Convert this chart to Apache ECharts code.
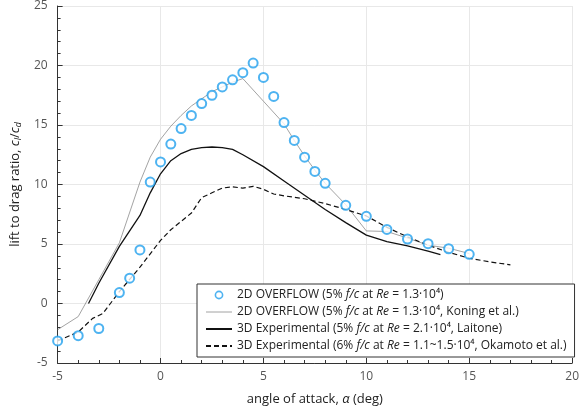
<!DOCTYPE html>
<html><head><meta charset="utf-8">
<script src="https://cdn.jsdelivr.net/npm/echarts@6/dist/echarts.min.js"></script>
<style>html,body{margin:0;padding:0;background:#fff}#c{width:582px;height:414px}</style>
</head><body><div id="c"></div>
<script>
// 2D OVERFLOW (circles)
const overflowAlpha = [-5,-4,-3,-2,-1.5,-1,-0.5,0,0.5,1,1.5,2,2.5,3,3.5,4,4.5,5,5.5,6,6.5,7,7.5,8,9,10,11,12,13,14,15];
const overflowLD    = [-3.15,-2.7,-2.1,0.92,2.13,4.5,10.2,11.9,13.4,14.7,15.8,16.8,17.5,18.2,18.8,19.4,20.2,19.0,17.4,15.2,13.7,12.3,11.1,10.1,8.25,7.33,6.22,5.42,5.03,4.6,4.13];
// 2D OVERFLOW, Koning et al. (thin grey line)
const koningAlpha = [-5,-4,-3,-2,-1,-0.5,0,0.5,1,1.5,2,2.5,3,3.5,4,5,6,6.5,7,7.5,8,9,10,11,12,13,14,15];
const koningLD    = [-2.2,-1.1,2.0,5.1,10.2,12.3,13.8,14.9,15.8,16.6,17.2,17.8,18.2,18.6,18.9,17.0,15.1,13.7,12.4,11.2,10.1,8.3,6.1,6.05,5.5,4.9,4.65,4.2];
// 3D Experimental, Laitone (solid black)
const laitoneAlpha = [-3.5,-3,-2,-1,-0.5,0,0.5,1,1.5,2,2.5,3,3.5,4,5,6,7,8,9,10,11,12,13,13.6];
const laitoneLD    = [0.0,1.7,4.8,7.4,9.3,10.9,12.0,12.6,12.95,13.1,13.15,13.1,12.95,12.5,11.5,10.3,9.1,7.9,6.8,5.75,5.2,4.85,4.4,4.1];
// 3D Experimental, Okamoto et al. (dashed)
const okamotoAlpha = [-5,-4,-3.3,-2.8,-2,-1,0,0.5,1,1.5,2,2.5,3,3.5,4,4.5,5,5.5,6,7,8,9,10,11,12,13,14,15,16,17];
const okamotoLD    = [-3.15,-2.4,-1.25,-0.84,1.0,3.05,5.3,6.2,6.9,7.6,8.9,9.3,9.7,9.8,9.7,9.85,9.6,9.2,9.05,8.8,8.4,7.9,7.36,6.4,5.6,4.9,4.3,3.8,3.5,3.25];
const xTicks = [-5,0,5,10,15,20];
const yTicks = [-5,0,5,10,15,20,25];

const names = ['ovf','kon','lai','oka'];
const legendRich = {
  '0': '{n|2D OVERFLOW (5% }{i|f/c}{n| at }{i|Re}{n| = 1.3·10⁴)}',
  '1': '{n|2D OVERFLOW (5% }{i|f/c}{n| at }{i|Re}{n| = 1.3·10⁴, Koning et al.)}',
  '2': '{n|3D Experimental (5% }{i|f/c}{n| at }{i|Re}{n| = 2.1·10⁴, Laitone)}',
  '3': '{n|3D Experimental (6% }{i|f/c}{n| at }{i|Re}{n| = 1.1~1.5·10⁴, Okamoto et al.)}'
};
const zip = (a,b)=>a.map((v,i)=>[v,b[i]]);
const font = 'Open Sans';
const blue = '#22a0ee';
const circleIcon = 'image://data:image/svg+xml;utf8,' + encodeURIComponent(
  '<svg xmlns="http://www.w3.org/2000/svg" width="26" height="12" viewBox="0 0 26 12">' +
  '<circle cx="13" cy="6" r="3.6" fill="#fff" stroke="' + blue + '" stroke-width="1.6"/></svg>');
const hideSym = {color:'rgba(0,0,0,0)',borderWidth:0,borderColor:'rgba(0,0,0,0)'};
const chart = echarts.init(document.getElementById('c'));
chart.setOption({
  animation:false,
  textStyle:{fontFamily:font},
  grid:{left:57,right:5,top:3,bottom:51},
  xAxis:{type:'value',min:-5,max:20,interval:5,
    axisLine:{show:true,onZero:false,lineStyle:{color:'#333',width:1}},
    axisTick:{show:true,inside:true,length:5,lineStyle:{color:'#333'}},
    minorTick:{show:true,splitNumber:5,length:3,lineStyle:{color:'#333'}},
    splitLine:{show:true,lineStyle:{color:'#e8e8e8',width:1}},
    axisLabel:{color:'#555',fontSize:12,margin:8,formatter:v=>xTicks.includes(v)?String(v):''},
    name:'{n|angle of attack, }{i|α}{n| (deg)}',nameLocation:'middle',nameGap:30,
    nameTextStyle:{rich:{n:{fontSize:13,color:'#222',fontFamily:font},i:{fontSize:13,color:'#222',fontStyle:'italic',fontFamily:font}}}
  },
  yAxis:{type:'value',min:-5,max:25,interval:5,
    axisLine:{show:true,onZero:false,lineStyle:{color:'#333',width:1}},
    axisTick:{show:true,inside:true,length:5,lineStyle:{color:'#333'}},
    minorTick:{show:true,splitNumber:5,length:3,lineStyle:{color:'#333'}},
    splitLine:{show:true,lineStyle:{color:'#e8e8e8',width:1}},
    axisLabel:{color:'#555',fontSize:12,margin:10,formatter:v=>yTicks.includes(v)?String(v):''},
    name:'{n|lift to drag ratio, }{i|c}{s|l}{n|/}{i|c}{s|d}',nameLocation:'middle',nameGap:31,
    nameTextStyle:{rich:{
      n:{fontSize:13,color:'#222',fontFamily:font,lineHeight:16},
      i:{fontSize:13,color:'#222',fontStyle:'italic',fontFamily:font,lineHeight:16},
      s:{fontSize:9,color:'#222',fontStyle:'italic',fontFamily:font,verticalAlign:'bottom',lineHeight:16,padding:[6,0,0,0]}}}
  },
  legend:{
    left:197, top:284, orient:'vertical', itemGap:5, itemWidth:26, itemHeight:12,
    padding:[5,8,5,8], borderColor:'#333', borderWidth:1, backgroundColor:'#fff',
    data:[
      {name:'ovf',icon:circleIcon},
      {name:'kon',itemStyle:hideSym,lineStyle:{width:0.8}},
      {name:'lai',itemStyle:hideSym},
      {name:'oka',itemStyle:hideSym}],
    formatter:n=>legendRich[names.indexOf(n)],
    textStyle:{rich:{
      n:{fontSize:12,color:'#222',fontFamily:font},
      i:{fontSize:12,color:'#222',fontStyle:'italic',fontFamily:font}}}
  },
  series:[
    {name:'kon',type:'line',symbol:'none',data:zip(koningAlpha,koningLD),lineStyle:{color:'#8c8c8c',width:0.8},itemStyle:{color:'#8c8c8c'},z:2},
    {name:'lai',type:'line',symbol:'none',data:zip(laitoneAlpha,laitoneLD),lineStyle:{color:'#111',width:1.3},itemStyle:{color:'#111'},z:2},
    {name:'oka',type:'line',symbol:'none',data:zip(okamotoAlpha,okamotoLD),lineStyle:{color:'#111',width:1.2,type:[5,3]},itemStyle:{color:'#111'},z:2},
    {name:'ovf',type:'scatter',symbol:'emptyCircle',symbolSize:9,data:zip(overflowAlpha,overflowLD),itemStyle:{color:blue,borderColor:blue,borderWidth:1.6},z:3}
  ]
});
</script></body></html>
